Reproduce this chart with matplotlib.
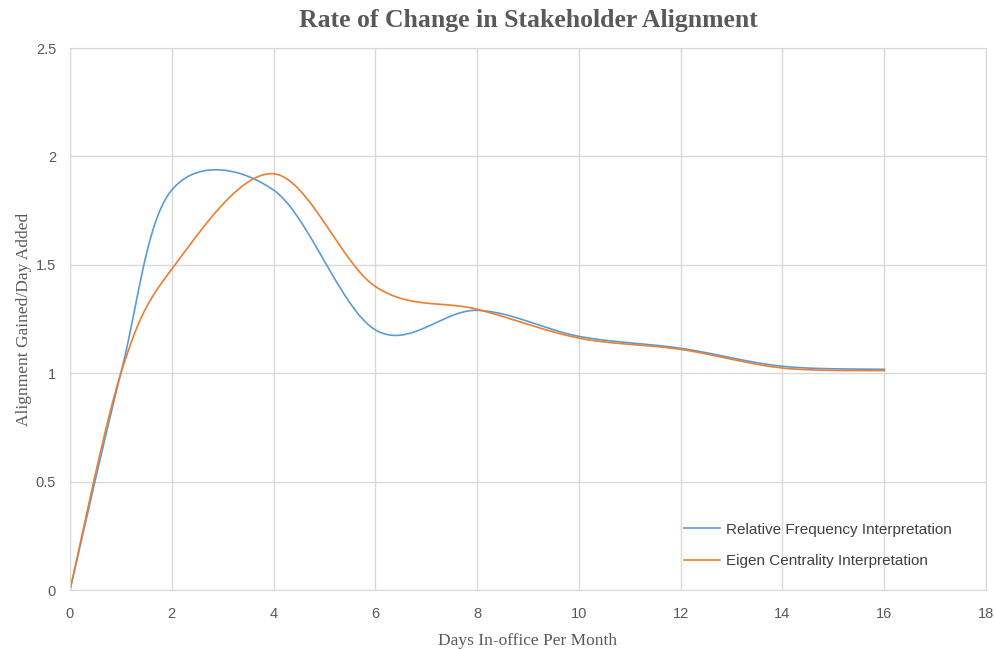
import numpy as np
import matplotlib.pyplot as plt

## Data
days = [0, 1, 2, 4, 6, 8, 10, 12, 14, 16]
rel_freq = [0, 1.0, 1.845, 1.845, 1.20, 1.29, 1.17, 1.115, 1.032, 1.018]
eigen = [0, 1.0, 1.48, 1.92, 1.40, 1.295, 1.162, 1.11, 1.024, 1.012]

series_names = ['Relative Frequency Interpretation', 'Eigen Centrality Interpretation']
series_colors = ['#5B9BD5', '#ED7D31']


def smooth(x, y, n=40):
    # Excel style smoothed line: cubic bezier through the points (catmull-rom, 1/6)
    p = np.column_stack((x, y)).astype(float)
    p = np.vstack((p[0], p, p[-1]))
    out = []
    t = np.linspace(0, 1, n)[:, None]
    for i in range(1, len(p) - 2):
        a = p[i]
        d = p[i + 1]
        b = a + (p[i + 1] - p[i - 1]) / 6.
        c = d - (p[i + 2] - p[i]) / 6.
        seg = (1 - t)**3 * a + 3 * (1 - t)**2 * t * b + 3 * (1 - t) * t**2 * c + t**3 * d
        out.append(seg)
    out = np.vstack(out)
    return out[:, 0], out[:, 1]


fig = plt.figure(figsize=(9.94, 6.49), dpi=100)
ax = fig.add_axes([0.0704, 0.0909, 0.9216, 0.8351])

for vals, name, col in zip([rel_freq, eigen], series_names, series_colors):
    sx, sy = smooth(days, vals)
    ax.plot(sx, sy, color=col, lw=1.2, label=name)

ax.set_xlim(0, 18)
ax.set_ylim(0, 2.5)
ax.set_xticks(np.arange(0, 19, 2))
ax.set_yticks([0, 0.5, 1, 1.5, 2, 2.5])
ax.set_yticklabels(['0', '0.5', '1', '1.5', '2', '2.5'])
ax.grid(True, color='#D9D9D9', lw=1)
ax.set_axisbelow(True)
for s in ax.spines.values():
    s.set_color('#D9D9D9')
ax.tick_params(axis='x', length=0, labelsize=10.5, labelcolor='#595959', pad=12)
ax.tick_params(axis='y', length=0, labelsize=10.5, labelcolor='#595959', pad=10)
for lab in ax.get_xticklabels() + ax.get_yticklabels():
    lab.set_family('Liberation Sans')

ax.set_title('Rate of Change in Stakeholder Alignment', family='Liberation Serif',
             fontweight='bold', fontsize=18.5, color='#595959', pad=15)
ax.set_xlabel('Days In-office Per Month', family='Liberation Serif', fontsize=12.5,
              color='#595959', labelpad=9)
ax.set_ylabel('Alignment Gained/Day Added', family='Liberation Serif', fontsize=12.5,
              color='#595959', labelpad=3)

leg = ax.legend(loc='lower right', bbox_to_anchor=(0.978, 0.015), frameon=False,
                prop={'family': 'Liberation Sans', 'size': 11}, handlelength=2.4,
                handletextpad=0.4, labelspacing=1.15)
for t in leg.get_texts():
    t.set_color('#404040')

fig.savefig('out.png', dpi=100)
